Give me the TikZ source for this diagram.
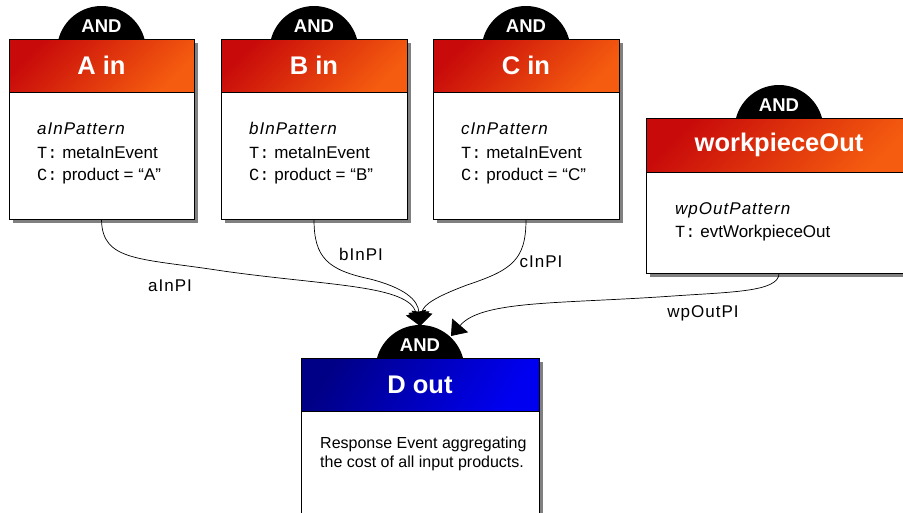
\documentclass[tikz,border=0pt]{standalone}
\usepackage{fontspec}
\setmainfont{Liberation Sans}
\setmonofont{Liberation Mono}
\usetikzlibrary{arrows.meta,shadows}
\definecolor{hred}{RGB}{200,10,10}
\definecolor{horange}{RGB}{245,92,15}
\definecolor{hnavy}{RGB}{0,0,135}
\definecolor{hblue}{RGB}{0,0,240}
\definecolor{shgray}{RGB}{128,128,128}
\tikzset{
  box/.style={draw=black, line width=0.9pt, fill=white, inner sep=0pt,
    drop shadow={shadow xshift=4pt, shadow yshift=-4pt, fill=shgray, opacity=1}},
  redhdr/.style={draw=black, line width=0.9pt, inner sep=0pt, anchor=north,
    top color=hred, bottom color=horange, shading angle=45,
    text=white, font=\fontsize{25.5}{28}\selectfont\bfseries},
  bluehdr/.style={draw=black, line width=0.9pt, inner sep=0pt, anchor=north,
    top color=hnavy, bottom color=hblue, shading angle=60,
    text=white, font=\fontsize{25.5}{28}\selectfont\bfseries},
  andlbl/.style={text=white, inner sep=0pt, font=\fontsize{18.5}{20}\selectfont\bfseries},
  bodyline/.style={anchor=base west, inner sep=0pt, font=\fontsize{17}{20}\selectfont},
  patline/.style={anchor=base west, inner sep=0pt, font=\fontsize{17}{20}\selectfont\itshape\addfontfeature{LetterSpace=6}},
  desc/.style={anchor=base west, inner sep=0pt, font=\fontsize{16}{19}\selectfont},
  elabel/.style={inner sep=0pt, font=\fontsize{17}{20}\selectfont\addfontfeature{LetterSpace=6}},
  conn/.style={draw=black, line width=0.7pt, -{Triangle[length=14pt,width=21pt]}},
}
\newcommand{\andgate}[3]{% x, base y, name
  \begin{scope}
    \clip (#1-50,#2) rectangle (#1+50,#2-40);
    \fill[black] (#1,#2+11.5) circle (44.5pt);
  \end{scope}
  \node[andlbl] (#3) at (#1,#2-13) {AND};
}
\newcommand{\tc}{\texttt}
\begin{document}
\begin{tikzpicture}[x=1pt,y=-1pt]
\clip (0,0) rectangle (903,512);
\fill[white] (0,0) rectangle (903,512);

% AND gates
\andgate{101.5}{39}{Aand}
\andgate{314}{39}{Band}
\andgate{526}{39}{Cand}
\andgate{779}{118}{Wand}
\andgate{420}{358}{Dand}

% boxes
\node[box, minimum width=185pt, minimum height=180pt] (A) at (101.5,129) {};
\node[redhdr, minimum width=185pt, minimum height=53pt] (Ah) at (A.north) {A in};
\node[box, minimum width=186pt, minimum height=180pt] (B) at (314,129) {};
\node[redhdr, minimum width=186pt, minimum height=53pt] (Bh) at (B.north) {B in};
\node[box, minimum width=186pt, minimum height=180pt] (C) at (526,129) {};
\node[redhdr, minimum width=186pt, minimum height=53pt] (Ch) at (C.north) {C in};
\node[box, minimum width=266pt, minimum height=155pt] (W) at (779,195.5) {};
\node[redhdr, minimum width=266pt, minimum height=54pt] (Wh) at (W.north) {workpieceOut};
\node[box, minimum width=238pt, minimum height=172pt] (D) at (420,444) {};
\node[bluehdr, minimum width=238pt, minimum height=53pt] (Dh) at (D.north) {D out};

% body texts
\node[patline] (A1) at (37,134) {aInPattern};
\node[bodyline] (A2) at (37,158) {\tc{T:} metaInEvent};
\node[bodyline] (A3) at (37,180) {\tc{C:} product = “A”};
\node[patline] (B1) at (249,134) {bInPattern};
\node[bodyline] (B2) at (249,158) {\tc{T:} metaInEvent};
\node[bodyline] (B3) at (249,180) {\tc{C:} product = “B”};
\node[patline] (C1) at (461,134) {cInPattern};
\node[bodyline] (C2) at (461,158) {\tc{T:} metaInEvent};
\node[bodyline] (C3) at (461,180) {\tc{C:} product = “C”};
\node[patline] (W1) at (675,214) {wpOutPattern};
\node[bodyline] (W2) at (675,237) {\tc{T:} evtWorkpieceOut};
\node[desc] (D1) at (320,448) {Response Event aggregating};
\node[desc] (D2) at (320,467) {the cost of all input products.};

% targets
\coordinate (dtop) at (420,326);
\coordinate (dright) at (451,336);

% connectors
\draw[conn] (A.south) .. controls (102,262) and (140,258) .. (223,271)
  .. controls (330,286) and (408,285) .. (dtop);
\draw[conn] (B.south) .. controls (314,258) and (328,270) .. (370,279)
  .. controls (405,288) and (418,300) .. (dtop);
\draw[conn] (C.south) .. controls (526,260) and (512,270) .. (467,285)
  .. controls (435,297) and (423,305) .. (dtop);
\draw[conn] (W.south) .. controls (779,292) and (730,292) .. (673,296)
  .. controls (560,304) and (482,300) .. (dright);

% edge labels
\node[elabel] (la) at (170,286) {aInPI};
\node[elabel] (lb) at (361,254) {bInPI};
\node[elabel] (lc) at (541,262) {cInPI};
\node[elabel] (lw) at (703,313) {wpOutPI};
\end{tikzpicture}
\end{document}
